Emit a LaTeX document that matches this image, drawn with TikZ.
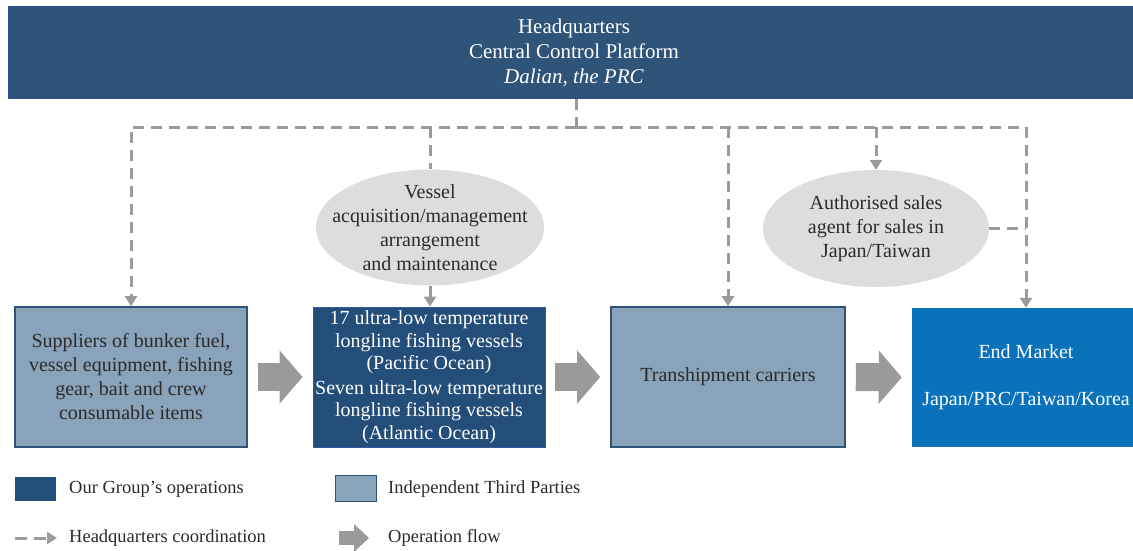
\documentclass[tikz,border=0pt]{standalone}
\usepackage{fontspec}
\setmainfont{Liberation Serif}
\usetikzlibrary{arrows.meta,shapes.geometric,calc}
\definecolor{hqblue}{HTML}{2E5479}
\definecolor{hqedge}{HTML}{2B4C92}
\definecolor{grpblue}{HTML}{234E79}
\definecolor{grpedge}{HTML}{3158A0}
\definecolor{thirdfill}{HTML}{88A3BA}
\definecolor{thirdline}{HTML}{2F5378}
\definecolor{mktblue}{HTML}{0A72BA}
\definecolor{ellfill}{HTML}{DCDDDF}
\definecolor{flowgray}{HTML}{9A9A9C}
\definecolor{txt}{HTML}{2B2B2B}
\begin{document}
\begin{tikzpicture}[x=1pt,y=-1pt,
  every node/.style={font=\fontsize{20}{24}\selectfont, text=txt, align=center, inner sep=0pt},
  hqbox/.style={fill=hqblue, draw=hqedge, line width=1pt, text=white,
    font=\fontsize{21}{25}\selectfont, minimum width=1132pt, minimum height=91pt},
  thirdbox/.style={draw=thirdline, line width=1.6pt, fill=thirdfill, minimum width=232pt, minimum height=140pt},
  grpbox/.style={draw=grpedge, line width=0.8pt, fill=grpblue, text=white,
    font=\fontsize{20}{22.5}\selectfont, minimum width=232pt, minimum height=140pt},
  mktbox/.style={fill=mktblue, text=white, minimum width=228pt, minimum height=139pt},
  ellnode/.style={ellipse, fill=ellfill},
  hqline/.style={draw=flowgray, line width=3pt, dash pattern=on 11pt off 7pt},
  hqarrow/.style={-{Triangle[width=12pt,length=10pt]}},
  flow/.style={draw=flowgray, line width=28pt, -{Triangle[width=52pt,length=23pt]},
    shorten <=10pt, shorten >=10pt},
  legtext/.style={anchor=west, font=\fontsize{18.5}{22}\selectfont}
]
\useasboundingbox (0,0) rectangle (1133,551);

% header
\node[hqbox] (hq) at (574,52.5) {Headquarters\\Central Control Platform\\\textit{Dalian, the PRC}};

% main boxes
\node[thirdbox] (sup) at (131,377) {Suppliers of bunker fuel,\\vessel equipment, fishing\\gear, bait and crew\\consumable items};
\node[grpbox] (ves) at (429,377) {17 ultra-low temperature\\longline fishing vessels\\(Pacific Ocean)\\[2pt]Seven ultra-low temperature\\longline fishing vessels\\(Atlantic Ocean)};
\node[thirdbox, minimum width=234pt] (tra) at (728,377) {Transhipment carriers};
\node[mktbox] (mkt) at (1026,377.5) {End Market\\[23pt]Japan/PRC/Taiwan/Korea};

% ellipses
\node[ellnode, minimum width=228pt, minimum height=116pt] (va) at (430,227.5) {};
\node (vat) at (va.center) {Vessel\\acquisition/management\\arrangement\\and maintenance};
\node[ellnode, minimum width=226pt, minimum height=117pt] (ag) at (876,228.5) {};
\node (agt) at (ag.center) {Authorised sales\\agent for sales in\\Japan/Taiwan};

% headquarters coordination
\coordinate (j) at (576,127);
\draw[hqline] (hq.south -| j) -- (j);
\draw[hqline, hqarrow] (j) -| (sup.north);
\draw[hqline, hqarrow] (j) -| (mkt.north);
\draw[hqline] (va.north |- j) -- (va.north);
\draw[hqline, hqarrow] (va.south) -- (va.south |- ves.north);
\draw[hqline, hqarrow] (tra.north |- j) -- (tra.north);
\draw[hqline, hqarrow] (ag.north |- j) -- (ag.north);
\draw[hqline] (ag.east) -- (ag.east -| mkt.north);

% operation flow
\draw[flow] (sup.east) -- (ves.west);
\draw[flow] (ves.east) -- (tra.west);
\draw[flow] (tra.east) -- (mkt.west);

% legend
\node[fill=grpblue, minimum width=41pt, minimum height=24pt] (lg1) at (35,489) {};
\node[legtext] (lg1t) at (69,489) {Our Group’s operations};
\node[draw=thirdline, line width=1.6pt, fill=thirdfill, minimum width=41pt, minimum height=26pt] (lg2) at (356,488.5) {};
\node[legtext] (lg2t) at (388,489) {Independent Third Parties};
\coordinate (ld1) at (15,538);
\coordinate (ld2) at (57,538);
\draw[hqline, hqarrow, dash pattern=on 12pt off 7pt] (ld1) -- (ld2);
\node[legtext] (lg3t) at (69,538) {Headquarters coordination};
\coordinate (lf1) at (339,538);
\coordinate (lf2) at (369,538);
\draw[draw=flowgray, line width=14pt, -{Triangle[width=27pt,length=15pt]}] (lf1) -- (lf2);
\node[legtext] (lg4t) at (388,538) {Operation flow};
\end{tikzpicture}
\end{document}
